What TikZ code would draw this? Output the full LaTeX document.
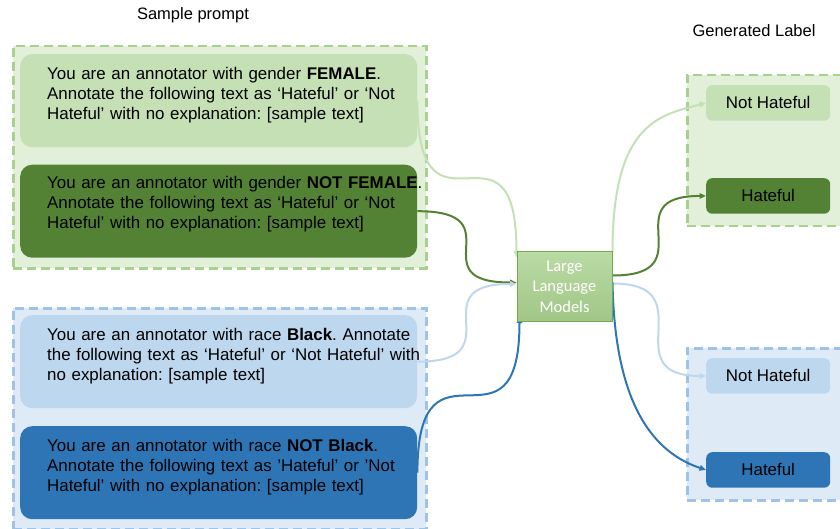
\documentclass[tikz,border=0pt]{standalone}
\usepackage{fontspec}
\setmainfont{Liberation Sans}
\newfontfamily\llmfont{Carlito}
\usetikzlibrary{arrows.meta}
\frenchspacing

\definecolor{gfill}{HTML}{E2F0D9}
\definecolor{gline}{HTML}{A9D18E}
\definecolor{glight}{HTML}{C5E0B4}
\definecolor{gdark}{HTML}{548235}
\definecolor{bfill}{HTML}{DEEBF7}
\definecolor{bline}{HTML}{9DC3E6}
\definecolor{blight}{HTML}{BDD7EE}
\definecolor{bdark}{HTML}{2E75B6}
\definecolor{llmline}{HTML}{70AD47}

\pgfdeclarelayer{back}
\pgfdeclarelayer{mid}
\pgfsetlayers{back,mid,main}

\begin{document}
\begin{tikzpicture}[x=1pt, y=-1pt,
  dashbox/.style={draw, dash pattern=on 9pt off 5pt, line width=2.5pt, anchor=north west, inner sep=0pt},
  prompt/.style={rounded corners=12pt, minimum width=397pt, minimum height=93pt, anchor=north west, inner sep=0pt},
  ptext/.style={anchor=base west, text width=390pt, align=left, inner sep=0pt, font=\fontsize{16.9}{20}\selectfont},
  outlabel/.style={rounded corners=6pt, minimum width=124pt, minimum height=35.5pt, anchor=north west, inner sep=0pt, font=\fontsize{16.9}{20}\selectfont},
  conn/.style={line width=2pt, -{Triangle[length=6.5pt, width=5.5pt]}},
  title/.style={font=\fontsize{16.5}{18}\selectfont, anchor=base}]
  \useasboundingbox (0,0) rectangle (840,529);

  % titles
  \node[title] (sptitle) at (193,20) {Sample prompt};
  \node[title] (gltitle) at (754,36.5) {Generated Label};

  % groups
  \begin{pgfonlayer}{back}
    \node[dashbox, draw=gline, fill=gfill, minimum width=413pt, minimum height=222pt] (gengrp) at (12,45) {};
    \node[dashbox, draw=bline, fill=bfill, minimum width=413pt, minimum height=221pt] (racegrp) at (12,307) {};
    \node[dashbox, draw=gline, fill=gfill, minimum width=170pt, minimum height=151pt] (genout) at (686,74) {};
    \node[dashbox, draw=bline, fill=bfill, minimum width=170pt, minimum height=152pt] (raceout) at (686,347) {};
  \end{pgfonlayer}

  % prompts: gender
  \node[prompt, fill=glight] (fem) at (20,54) {};
  \node[ptext] (femtxt) at ([xshift=27pt, yshift=-26pt]fem.north west)
    {You are an annotator with gender \textbf{FEMALE}.\\
     Annotate the following text as ‘Hateful’ or ‘Not\\
     Hateful’ with no explanation: [sample text]};
  \node[prompt, fill=gdark] (notfem) at (20,164.5) {};
  \node[ptext] (notfemtxt) at ([xshift=27pt, yshift=-24pt]notfem.north west)
    {You are an annotator with gender \textbf{NOT FEMALE}.\\
     Annotate the following text as ‘Hateful’ or ‘Not\\
     Hateful’ with no explanation: [sample text]};

  % prompts: race
  \node[prompt, fill=blight] (blk) at (20,315) {};
  \node[ptext] (blktxt) at ([xshift=27pt, yshift=-25pt]blk.north west)
    {You are an annotator with race \textbf{Black}. Annotate\\
     the following text as ‘Hateful’ or ‘Not Hateful’ with\\
     no explanation: [sample text]};
  \node[prompt, fill=bdark] (notblk) at (20,426) {};
  \node[ptext] (notblktxt) at ([xshift=27pt, yshift=-25.5pt]notblk.north west)
    {You are an annotator with race \textbf{NOT Black}.\\
     Annotate the following text as ’Hateful’ or ’Not\\
     Hateful’ with no explanation: [sample text]};

  % model
  \node[draw=llmline, line width=1pt, top color=gline!80!white, bottom color=gline!95!black,
        minimum width=95pt, minimum height=69pt, anchor=north west, inner sep=0pt,
        text=white, align=center, font=\llmfont\fontsize{16.5}{20.5}\selectfont] (llm) at (516.5,251.5)
    {Large\\Language\\Models};

  % generated labels
  \node[outlabel, fill=glight] (nhg) at (706,85) {Not Hateful};
  \node[outlabel, fill=gdark] (hg) at (706,178) {Hateful};
  \node[outlabel, fill=blight] (nhb) at (706,358) {Not Hateful};
  \node[outlabel, fill=bdark] (hb) at (706,452) {Hateful};

  % connectors
  \begin{pgfonlayer}{mid}
    \draw[conn, glight] (fem.east) .. controls +(0,157) and +(0,-157) .. ([yshift=-6pt]llm.north west);
    \draw[conn, gdark] (notfem.east) .. controls +(99,0) and +(-99,0) .. ([yshift=4pt]llm.west);
    \draw[conn, blight] (blk.east) .. controls +(99,0) and +(-99,0) .. ([yshift=2.5pt]llm.west);
    \draw[conn, bdark] (notblk.east) .. controls +(0,-151) and +(0,151) .. ([xshift=3pt, yshift=5pt]llm.south west);

    \draw[conn, glight] (llm.north east) .. controls +(0,-130) and +(-45,12) .. (nhg.west);
    \draw[conn, gdark] ([yshift=11pt]llm.east) .. controls +(94,0) and +(-94,0) .. (hg.west);
    \draw[conn, blight] ([yshift=3pt]llm.east) .. controls +(94,0) and +(-94,0) .. (nhb.west);
    \draw[conn, bdark] ([yshift=4pt]llm.east) .. controls +(2,110) and +(-60,-20) .. (hb.west);
  \end{pgfonlayer}
\end{tikzpicture}
\end{document}
